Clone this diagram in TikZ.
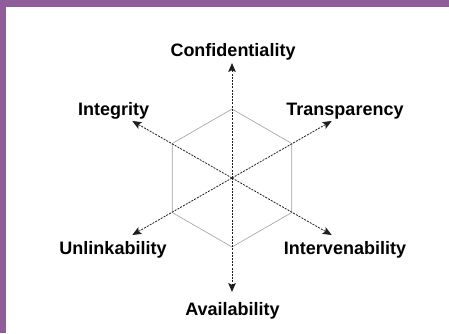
\documentclass[tikz,border=0pt]{standalone}
\usepackage{fontspec}
\setmainfont{Liberation Sans}
\usetikzlibrary{arrows.meta,calc}
\definecolor{framepurple}{RGB}{143,94,153}
\definecolor{axisgray}{RGB}{30,30,30}
\definecolor{hexgray}{RGB}{160,160,160}
\begin{document}
\begin{tikzpicture}[x=1pt,y=-1pt,
  lbl/.style={anchor=base,inner sep=0pt,font=\fontsize{18}{20}\selectfont\bfseries},
  axis/.style={draw=axisgray,line width=0.8pt,dash pattern=on 2pt off 1.2pt,-{Stealth[length=9pt,width=7.5pt,inset=1.8pt]}},
  hexline/.style={draw=hexgray,line width=0.6pt}]
\useasboundingbox (0,0) rectangle (449,333);
\fill[white] (0,0) rectangle (449,333);
\fill[framepurple] (0,0) rectangle (449,7);
\fill[framepurple] (0,0) rectangle (6,333);
% centre and hexagon
\coordinate (c) at (232,178);
\foreach \a/\n in {90/h1,30/h2,-30/h3,-90/h4,-150/h5,150/h6}
  \coordinate (\n) at ($(c)+(\a:69)$);
\draw[hexline] (h1) -- (h2) -- (h3) -- (h4) -- (h5) -- (h6) -- cycle;
% arrow tips
\coordinate (tC) at (232,63);
\coordinate (tA) at (232,292);
\coordinate (tT) at (331.7,121);
\coordinate (tI) at (132.3,121);
\coordinate (tU) at (132.3,235);
\coordinate (tV) at (331.7,235);
\draw[axis] (c) -- (tC);
\draw[axis] (c) -- (tA);
\draw[axis] (c) -- (tT);
\draw[axis] (c) -- (tI);
\draw[axis] (c) -- (tU);
\draw[axis] (c) -- (tV);
% labels
\node[lbl] (conf) at (233,56) {Confidentiality};
\node[lbl] (avail) at (232.5,315) {Availability};
\node[lbl] (integ) at (113.7,115) {Integrity};
\node[lbl] (transp) at (345,115) {Transparency};
\node[lbl] (unlink) at (113,254) {Unlinkability};
\node[lbl] (interv) at (345,254) {Intervenability};
\end{tikzpicture}
\end{document}
